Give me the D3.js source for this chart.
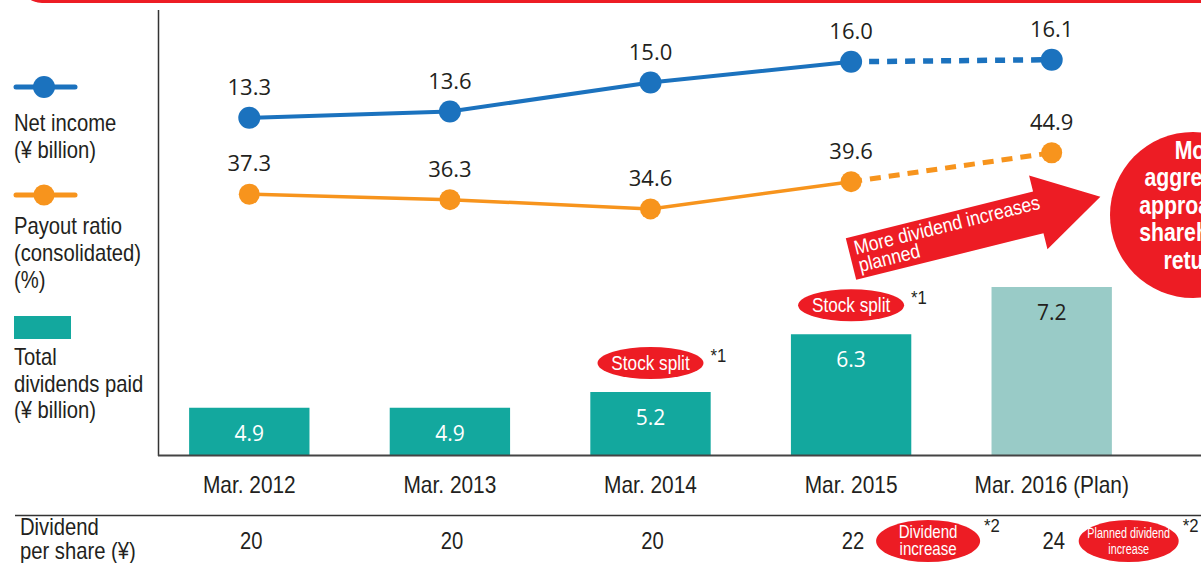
<!DOCTYPE html>
<html>
<head>
<meta charset="utf-8">
<script src="https://cdn.jsdelivr.net/npm/d3@7"></script>
<style>
  body { margin: 0; background: #fff; }
  svg { display: block; }
</style>
</head>
<body>
<div id="chart"></div>
<script>
// data
const categories = ['Mar. 2012', 'Mar. 2013', 'Mar. 2014', 'Mar. 2015', 'Mar. 2016 (Plan)'];
const netIncome = [13.3, 13.6, 15.0, 16.0, 16.1];
const payoutRatio = [37.3, 36.3, 34.6, 39.6, 44.9];
const totalDividends = [4.9, 4.9, 5.2, 6.3, 7.2];
const dividendPerShare = [20, 20, 20, 22, 24];
const planIndex = 4;
const stockSplitAt = [2, 3];
const increaseBadges = [
  { i: 3, lines: ['Dividend', 'increase'], size: 18, k: 0.84, rx: 52 },
  { i: 4, lines: ['Planned dividend', 'increase'], size: 15, k: 0.72, rx: 50 }
];

const W = 1201, H = 563;
const cond = "'Liberation Sans', Arial, sans-serif";   // squeezed with scaleX below
const K = 0.88;
const numFont = "'Open Sans', sans-serif";
const ink = '#231f20';
const blue = '#1b72be', orange = '#f7941d', teal = '#13a89e', tealLight = '#99cbc7', red = '#ed1c24';

const svg = d3.select('#chart').append('svg')
  .attr('width', W).attr('height', H);

const squeeze = (x, y, k) => `translate(${x},${y}) scale(${k || K},1)`;

// top red banner edge
svg.append('rect')
  .attr('x', 20).attr('y', -40)
  .attr('width', 1240).attr('height', 43)
  .attr('rx', 22)
  .attr('fill', red);

const x = d3.scaleBand()
  .domain(categories)
  .range([149, 1152])
  .paddingInner(0.4)
  .paddingOuter(0.2);
const cx = (d, i) => x(categories[i]) + x.bandwidth() / 2;

const yBar = d3.scaleLinear().domain([4, 8]).range([455, 245]);
const yNet = d3.scaleLinear().domain([13, 17]).range([124, 41]);
const yPay = d3.scaleLinear().domain([30, 50]).range([234, 125]);

// bars
const bars = svg.append('g');
bars.selectAll('rect')
  .data(totalDividends)
  .join('rect')
  .attr('x', (d, i) => x(categories[i]))
  .attr('y', d => yBar(d))
  .attr('width', x.bandwidth())
  .attr('height', d => yBar.range()[0] - yBar(d))
  .attr('fill', (d, i) => i === planIndex ? tealLight : teal);
bars.selectAll('text')
  .data(totalDividends)
  .join('text')
  .attr('x', cx)
  .attr('y', d => yBar(d) + 33)
  .attr('text-anchor', 'middle')
  .attr('font-family', numFont)
  .attr('font-size', 21)
  .attr('fill', (d, i) => i === planIndex ? ink : '#fff')
  .text(d => d.toFixed(1));

// axes lines
svg.append('line')
  .attr('x1', 158.5).attr('x2', 158.5).attr('y1', 10).attr('y2', 456)
  .attr('stroke', '#333').attr('stroke-width', 1.5);
svg.append('line')
  .attr('x1', 158).attr('x2', W).attr('y1', 455.5).attr('y2', 455.5)
  .attr('stroke', '#444').attr('stroke-width', 2);

// category labels
svg.append('g').selectAll('text')
  .data(categories)
  .join('text')
  .attr('transform', (d, i) => squeeze(cx(d, i), 493, 0.87))
  .attr('text-anchor', 'middle')
  .attr('font-family', cond)
  .attr('font-size', 24)
  .attr('fill', ink)
  .text(d => d);

// stock split badges
const split = svg.append('g');
stockSplitAt.forEach(i => {
  const bx = cx(null, i), by = yBar(totalDividends[i]) - 29;
  split.append('ellipse')
    .attr('cx', bx).attr('cy', by).attr('rx', 53).attr('ry', 16)
    .attr('fill', red);
  split.append('text')
    .attr('transform', squeeze(bx, by + 7, 0.86))
    .attr('text-anchor', 'middle')
    .attr('font-family', cond).attr('font-size', 20)
    .attr('fill', '#fff')
    .text('Stock split');
  split.append('text')
    .attr('transform', squeeze(bx + 60, by - 1))
    .attr('font-family', cond).attr('font-size', 19)
    .attr('fill', ink)
    .text('*1');
});

// line series
function drawSeries(values, y, color, width, dash, r) {
  const g = svg.append('g');
  const pts = values.map((v, i) => [cx(null, i), y(v)]);
  const line = d3.line();
  g.append('path')
    .attr('d', line(pts.slice(0, planIndex)))
    .attr('fill', 'none')
    .attr('stroke', color)
    .attr('stroke-width', width);
  g.append('path')
    .attr('d', line(pts.slice(planIndex - 1)))
    .attr('fill', 'none')
    .attr('stroke', color)
    .attr('stroke-width', width + 1.5)
    .attr('stroke-dasharray', dash);
  g.selectAll('circle')
    .data(pts)
    .join('circle')
    .attr('cx', d => d[0]).attr('cy', d => d[1]).attr('r', r)
    .attr('fill', color);
  g.selectAll('text')
    .data(values)
    .join('text')
    .attr('x', (d, i) => pts[i][0])
    .attr('y', (d, i) => pts[i][1] - 23)
    .attr('text-anchor', 'middle')
    .attr('font-family', numFont)
    .attr('font-size', 22)
    .attr('fill', ink)
    .text(d => d.toFixed(1));
}
drawSeries(netIncome, yNet, blue, 4, '10 8', 11);
drawSeries(payoutRatio, yPay, orange, 3.5, '11 8', 10.5);

// arrow
const arrow = svg.append('g')
  .attr('transform', 'translate(851,259) rotate(-14)');
arrow.append('path')
  .attr('d', 'M0,-21.5 L193,-21.5 L193,-38 L257,0 L193,38 L193,21.5 L0,21.5 Z')
  .attr('fill', red);
arrow.append('g')
  .attr('transform', squeeze(6, 0))
  .append('text')
  .attr('font-family', cond).attr('font-size', 20)
  .attr('fill', '#fff')
  .selectAll('tspan')
  .data(['More dividend increases', 'planned'])
  .join('tspan')
  .attr('x', 0)
  .attr('y', (d, i) => -3 + i * 18)
  .text(d => d);

// right red circle
svg.append('circle')
  .attr('cx', 1193).attr('cy', 215).attr('r', 83)
  .attr('fill', red);
svg.append('g')
  .attr('transform', squeeze(1200, 0, 0.85))
  .append('text')
  .attr('font-family', cond).attr('font-size', 25)
  .attr('font-weight', 'bold')
  .attr('fill', '#fff')
  .attr('text-anchor', 'middle')
  .selectAll('tspan')
  .data(['More', 'aggressive', 'approach to', 'shareholder', 'returns'])
  .join('tspan')
  .attr('x', 0)
  .attr('y', (d, i) => 159 + i * 27.5)
  .text(d => d);

// legend
const legend = svg.append('g')
  .attr('font-family', cond).attr('font-size', 23).attr('fill', ink);
[[87, blue, 11], [195, orange, 10.5]].forEach(([ly, c, r]) => {
  legend.append('line')
    .attr('x1', 16).attr('x2', 75).attr('y1', ly).attr('y2', ly)
    .attr('stroke', c).attr('stroke-width', 5).attr('stroke-linecap', 'round');
  legend.append('circle')
    .attr('cx', 44).attr('cy', ly).attr('r', r).attr('fill', c);
});
legend.append('rect')
  .attr('x', 14).attr('y', 316).attr('width', 57).attr('height', 23)
  .attr('fill', teal);
const legendText = [
  ['Net income', 131], ['(¥ billion)', 158],
  ['Payout ratio', 234], ['(consolidated)', 261], ['(%)', 288],
  ['Total', 365], ['dividends paid', 392], ['(¥ billion)', 418]
];
legend.selectAll('text')
  .data(legendText)
  .join('text')
  .attr('transform', d => squeeze(14, d[1]))
  .text(d => d[0]);

// dividend per share table
svg.append('line')
  .attr('x1', 15).attr('x2', W).attr('y1', 515.5).attr('y2', 515.5)
  .attr('stroke', '#333').attr('stroke-width', 1.5);
const table = svg.append('g')
  .attr('font-family', cond).attr('fill', ink).attr('font-size', 23);
table.append('text').attr('transform', squeeze(20, 535)).text('Dividend');
table.append('text').attr('transform', squeeze(20, 559)).text('per share (¥)');
table.selectAll('text.dps')
  .data(dividendPerShare)
  .join('text')
  .attr('class', 'dps')
  .attr('transform', (d, i) => squeeze(cx(d, i) + 2, 549))
  .attr('text-anchor', 'middle')
  .text(d => d);

increaseBadges.forEach(b => {
  const bx = cx(null, b.i) + 77;
  svg.append('ellipse')
    .attr('cx', bx).attr('cy', 541).attr('rx', b.rx).attr('ry', 21)
    .attr('fill', red);
  svg.append('g')
    .attr('transform', squeeze(bx, 0, b.k))
    .append('text')
    .attr('font-family', cond).attr('font-size', b.size)
    .attr('fill', '#fff').attr('text-anchor', 'middle')
    .selectAll('tspan')
    .data(b.lines)
    .join('tspan')
    .attr('x', 0)
    .attr('y', (d, i) => 538 + i * (b.size > 16 ? 17 : 16))
    .text(d => d);
  svg.append('text')
    .attr('transform', squeeze(bx + b.rx + 4, 532))
    .attr('font-family', cond).attr('font-size', 19)
    .attr('fill', ink)
    .text('*2');
});
</script>
</body>
</html>
